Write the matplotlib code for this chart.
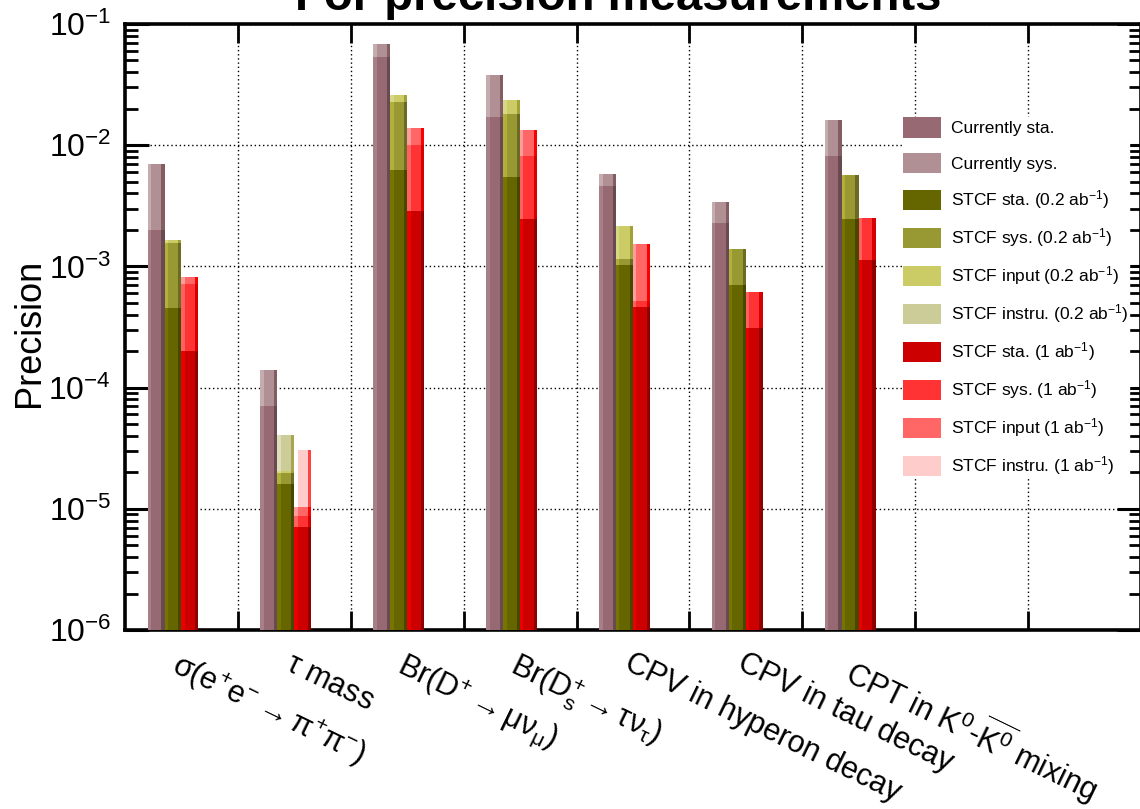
import numpy as np
import matplotlib
matplotlib.use("Agg")
import matplotlib.pyplot as plt
import matplotlib.colors as mcolors
import matplotlib.transforms as mtransforms
from matplotlib.patches import Patch
import colorsys

plt.rcParams['font.family'] = ['Liberation Sans', 'DejaVu Sans']
plt.rcParams['mathtext.fontset'] = 'custom'
plt.rcParams['mathtext.rm'] = 'Liberation Sans'
plt.rcParams['mathtext.it'] = 'Liberation Sans:italic'
plt.rcParams['mathtext.bf'] = 'Liberation Sans:bold'
plt.rcParams['mathtext.default'] = 'regular'

nan = np.nan
categories = [r"$\sigma(e^{+}e^{-}\rightarrow\pi^{+}\pi^{-})$",
              r"$\tau$ mass",
              r"Br(D$^{+}\rightarrow\mu\nu_{\mu}$)",
              r"Br(D$_{s}^{+}\rightarrow\tau\nu_{\tau}$)",
              "CPV in hyperon decay",
              "CPV in tau decay",
              r"CPT in K$^{0}$-$\overline{K^{0}}$ mixing",
              "", ""]

current_sta   = [2.0e-3, 7.1e-5, 5.3e-2, 1.7e-2, 4.6e-3, 2.3e-3, 8.1e-3, nan, nan]
current_sys   = [7.0e-3, 1.4e-4, 6.8e-2, 3.8e-2, 5.8e-3, 3.4e-3, 1.6e-2, nan, nan]
stcf02_sta    = [4.5e-4, 1.6e-5, 6.3e-3, 5.5e-3, 1.02e-3, 7.0e-4, 2.44e-3, nan, nan]
stcf02_sys    = [1.57e-3, 1.96e-5, 2.26e-2, 1.82e-2, 1.16e-3, 1.38e-3, 5.67e-3, nan, nan]
stcf02_input  = [1.66e-3, 2.06e-5, 2.58e-2, 2.38e-2, 2.16e-3, nan, nan, nan, nan]
stcf02_instru = [nan, 4.1e-5, nan, nan, nan, nan, nan, nan, nan]
stcf1_sta     = [2.0e-4, 7.1e-6, 2.85e-3, 2.45e-3, 4.6e-4, 3.1e-4, 1.12e-3, nan, nan]
stcf1_sys     = [7.1e-4, 8.7e-6, 1.0e-2, 8.2e-3, 5.2e-4, 6.2e-4, 2.5e-3, nan, nan]
stcf1_input   = [8.2e-4, 1.04e-5, 1.39e-2, 1.34e-2, 1.52e-3, nan, nan, nan, nan]
stcf1_instru  = [nan, 3.05e-5, nan, nan, nan, nan, nan, nan, nan]

legend_labels = ["Currently sta.", "Currently sys.",
                 r"STCF sta. (0.2 ab$^{-1}$)", r"STCF sys. (0.2 ab$^{-1}$)",
                 r"STCF input (0.2 ab$^{-1}$)", r"STCF instru. (0.2 ab$^{-1}$)",
                 r"STCF sta. (1 ab$^{-1}$)", r"STCF sys. (1 ab$^{-1}$)",
                 r"STCF input (1 ab$^{-1}$)", r"STCF instru. (1 ab$^{-1}$)"]
colors = ["#966973", "#b09094", "#666600", "#999933", "#cccc66", "#cccc99",
          "#cc0000", "#ff3333", "#ff6666", "#ffcccc"]

groups = [
    [(current_sys, colors[1]), (current_sta, colors[0])],
    [(stcf02_instru, colors[5]), (stcf02_input, colors[4]), (stcf02_sys, colors[3]), (stcf02_sta, colors[2])],
    [(stcf1_instru, colors[9]), (stcf1_input, colors[8]), (stcf1_sys, colors[7]), (stcf1_sta, colors[6])],
]

def shade(c, f):
    r, g, b = mcolors.to_rgb(c)
    h, l, s = colorsys.rgb_to_hls(r, g, b)
    l = min(1.0, l * f)
    return colorsys.hls_to_rgb(h, l, s)

W, H = 1140, 809
fig = plt.figure(figsize=(W / 100, H / 100), dpi=100)
ax_left, ax_right, ax_top, ax_bot = 125, 1141, 24, 630
ax = fig.add_axes([ax_left / W, 1 - ax_bot / H, (ax_right - ax_left) / W, (ax_bot - ax_top) / H])
ax.set_yscale('log')
ymin = 1e-6
ax.set_ylim(ymin, 1e-1)
nb = len(categories)
ax.set_xlim(0, nb)

bw = 0.15
for j, series_list in enumerate(groups):
    for vals, col in series_list:
        for i, v in enumerate(vals):
            if np.isnan(v):
                continue
            x0 = i + 0.2 + bw * j
            ax.bar(x0, v - ymin, bottom=ymin, width=bw, align='edge', color=col, linewidth=0, zorder=3)
            ax.bar(x0, v - ymin, bottom=ymin, width=bw * 0.2, align='edge', color=shade(col, 1.15), linewidth=0, zorder=3)
            ax.bar(x0 + bw * 0.8, v - ymin, bottom=ymin, width=bw * 0.2, align='edge', color=shade(col, 0.7), linewidth=0, zorder=3)

ax.set_xticks(np.arange(1, nb))
ax.set_xticklabels([])
ax.grid(True, which='major', axis='both', color='black', linestyle=(0, (1, 2)), linewidth=1.0, zorder=1)
ax.set_axisbelow(True)

for sp in ax.spines.values():
    sp.set_linewidth(2.6)
ax.tick_params(axis='x', which='major', direction='in', length=14, width=2.0, top=True, bottom=True)
ax.tick_params(axis='y', which='major', direction='in', length=17, width=2.2, left=True, right=True, labelsize=23, pad=10)
ax.tick_params(axis='y', which='minor', direction='in', length=9, width=2.0, left=True, right=True)
ax.yaxis.set_major_locator(matplotlib.ticker.LogLocator(base=10, numticks=10))
ax.yaxis.set_minor_locator(matplotlib.ticker.LogLocator(base=10, subs=np.arange(2, 10), numticks=20))
ax.yaxis.set_major_formatter(matplotlib.ticker.FuncFormatter(lambda v, p: r"$10^{%d}$" % int(round(np.log10(v)))))
ax.yaxis.set_minor_formatter(matplotlib.ticker.NullFormatter())

trans = mtransforms.blended_transform_factory(ax.transData, ax.transAxes)
for i, lab in enumerate(categories):
    if lab:
        ax.text(i + 0.5, -0.03, lab, transform=trans, rotation=-26, rotation_mode='anchor',
                ha='left', va='top', fontsize=22)

fig.text(30 / W, 1 - 333 / H, "Precision", rotation=90, ha='center', va='center', fontsize=26)
fig.text(618 / W, 1 - 10 / H, "For precision measurements", ha='center', va='baseline',
         fontsize=34, fontweight='bold')

handles = [Patch(facecolor=c, edgecolor='none') for c in colors]
fs = 12.5
fpx = fs * 100 / 72
leg = ax.legend(handles, legend_labels, loc='upper left', bbox_to_anchor=(903 / W, 1 - 117 / H),
                bbox_transform=fig.transFigure, frameon=True, fancybox=False, borderpad=0,
                borderaxespad=0, handlelength=38 / fpx, handleheight=25 / fpx,
                labelspacing=(40.1 - 25) / fpx, handletextpad=10 / fpx, fontsize=fs)
leg.get_frame().set_facecolor('white')
leg.get_frame().set_edgecolor('white')
leg.get_frame().set_alpha(1)
leg.set_zorder(10)

fig.savefig("out.png", dpi=100)
